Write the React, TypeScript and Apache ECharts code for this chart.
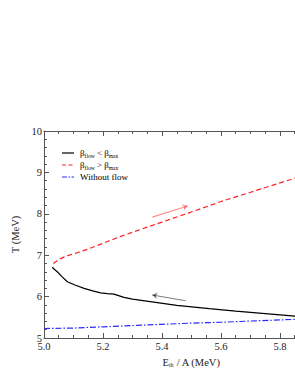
import React, { useEffect, useRef } from "react";
import * as echarts from "echarts";

const belowMax: [number, number][] = [
  [5.028, 6.71], [5.035, 6.66], [5.045, 6.6], [5.06, 6.49], [5.079, 6.36],
  [5.105, 6.28], [5.136, 6.2], [5.165, 6.14], [5.192, 6.09], [5.215, 6.07],
  [5.237, 6.06], [5.271, 5.98], [5.3, 5.94], [5.36, 5.88], [5.45, 5.79],
  [5.56, 5.71], [5.65, 5.65], [5.75, 5.59], [5.85, 5.53], [5.95, 5.48],
];
const aboveMax: [number, number][] = [
  [5.032, 6.8], [5.05, 6.9], [5.08, 6.99], [5.113, 7.06], [5.15, 7.15],
  [5.215, 7.33], [5.258, 7.45], [5.4, 7.8], [5.563, 8.2], [5.597, 8.29],
  [5.7, 8.52], [5.85, 8.86], [5.95, 9.1],
];
const withoutFlow: [number, number][] = [
  [5.0, 5.23], [5.1, 5.24], [5.2, 5.27], [5.3, 5.3], [5.4, 5.33],
  [5.5, 5.36], [5.6, 5.38], [5.7, 5.41], [5.85, 5.45], [5.95, 5.47],
];
const redArrow: [number, number][] = [[5.367, 7.92], [5.487, 8.19]];
const blackArrow: [number, number][] = [[5.48, 5.9], [5.367, 6.04]];

const FONT = "'Liberation Serif', 'DejaVu Serif', serif";
const AXIS_COLOR = "#555";

export default function App() {
  const ref = useRef<HTMLDivElement>(null);
  useEffect(() => {
    if (!ref.current) return;
    const chart = echarts.init(ref.current, null, { renderer: "svg" });
    const richLegend = {
      b: { fontSize: 9, fontFamily: FONT, color: "#222", lineHeight: 11 },
      s: { fontSize: 5.5, fontFamily: FONT, color: "#222", lineHeight: 6, verticalAlign: "bottom" as const },
    };
    const axisCommon = {
      type: "value" as const,
      axisLine: { show: true, lineStyle: { color: AXIS_COLOR, width: 1 } },
      splitLine: { show: false },
    };
    chart.setOption({
      animation: false,
      grid: { left: 44, top: 131, right: 0, bottom: 44 },
      xAxis: [
        {
          ...axisCommon,
          min: 5,
          max: 6,
          interval: 0.2,
          position: "bottom",
          axisTick: { inside: true, length: 5, lineStyle: { color: AXIS_COLOR } },
          minorTick: { show: true, splitNumber: 4, length: 3, lineStyle: { color: AXIS_COLOR } },
          axisLabel: {
            margin: 3,
            fontSize: 10.5,
            fontFamily: FONT,
            color: "#222",
            showMaxLabel: false,
            formatter: (v: number) => v.toFixed(1),
          },
          name: "E{s|th} / A (MeV)",
          nameLocation: "middle",
          nameGap: 13,
          nameTextStyle: {
            fontSize: 10.5,
            fontFamily: FONT,
            color: "#222",
            rich: {
              s: { fontSize: 6, fontFamily: FONT, color: "#222", verticalAlign: "bottom", lineHeight: 7 },
            },
          },
        },
        {
          ...axisCommon,
          min: 5,
          max: 6,
          interval: 0.2,
          position: "top",
          axisTick: { inside: true, length: 5, lineStyle: { color: AXIS_COLOR } },
          minorTick: { show: true, splitNumber: 4, length: 3, lineStyle: { color: AXIS_COLOR } },
          axisLabel: { show: false },
        },
      ],
      yAxis: [
        {
          ...axisCommon,
          min: 5,
          max: 10,
          interval: 1,
          axisTick: { inside: true, length: 5, lineStyle: { color: AXIS_COLOR } },
          minorTick: { show: true, splitNumber: 5, length: 3, lineStyle: { color: AXIS_COLOR } },
          axisLabel: { margin: 2, fontSize: 10.5, fontFamily: FONT, color: "#222" },
          name: "T (MeV)",
          nameLocation: "middle",
          nameGap: 15,
          nameTextStyle: { fontSize: 10.5, fontFamily: FONT, color: "#222" },
        },
      ],
      series: [
        {
          type: "line",
          data: belowMax,
          showSymbol: false,
          symbol: "none",
          lineStyle: { color: "#000", width: 1.2 },
          clip: true,
        },
        {
          type: "line",
          data: aboveMax,
          showSymbol: false,
          symbol: "none",
          lineStyle: { color: "#ff2020", width: 1.2, type: [5, 3] },
          clip: true,
        },
        {
          type: "line",
          data: withoutFlow,
          showSymbol: false,
          symbol: "none",
          lineStyle: { color: "#2a2aff", width: 1.2, type: [6, 2, 1.5, 2] },
          clip: true,
        },
        {
          type: "lines",
          coordinateSystem: "cartesian2d",
          symbol: ["none", "arrow"],
          symbolSize: 5,
          data: [
            { coords: redArrow, lineStyle: { color: "#ff2020", width: 1.1 } },
            { coords: blackArrow, lineStyle: { color: "#000", width: 1.1 } },
          ],
        },
      ],
      graphic: [
        { type: "line", shape: { x1: 62, y1: 153, x2: 74, y2: 153 }, style: { stroke: "#000", lineWidth: 1.2 } },
        { type: "line", shape: { x1: 62, y1: 165, x2: 74, y2: 165 }, style: { stroke: "#ff2020", lineWidth: 1.2, lineDash: [4, 2.5] } },
        { type: "line", shape: { x1: 62, y1: 177, x2: 74, y2: 177 }, style: { stroke: "#2a2aff", lineWidth: 1.2, lineDash: [5, 1.5, 1.5, 1.5] } },
        {
          type: "text", x: 80, y: 153,
          style: { text: "{b|β}{s|flow}{b| < β}{s|max}", rich: richLegend, verticalAlign: "middle" },
        },
        {
          type: "text", x: 80, y: 165,
          style: { text: "{b|β}{s|flow}{b| > β}{s|max}", rich: richLegend, verticalAlign: "middle" },
        },
        {
          type: "text", x: 80, y: 177,
          style: { text: "{b|Without flow}", rich: richLegend, verticalAlign: "middle" },
        },
      ],
    });
    return () => chart.dispose();
  }, []);
  return (
    <div style={{ position: "absolute", left: 0, top: 0, width: 295, height: 382, overflow: "hidden", background: "#fff" }}>
      <div ref={ref} style={{ width: 339, height: 382 }} />
    </div>
  );
}
